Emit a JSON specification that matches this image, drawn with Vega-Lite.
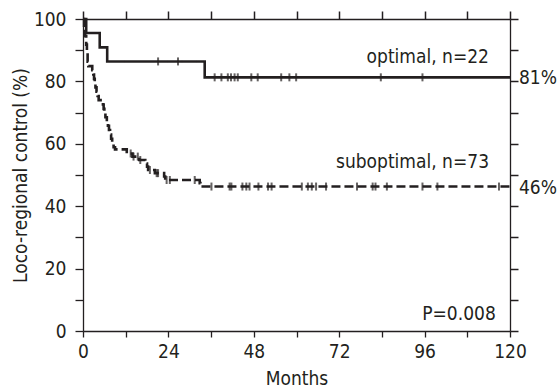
{
  "$schema": "https://vega.github.io/schema/vega-lite/v6.json",
  "width": 427,
  "height": 312,
  "autosize": {"type": "none"},
  "padding": {"left": 83, "top": 19, "right": 50, "bottom": 60},
  "background": "white",
  "config": {
    "view": {"stroke": null},
    "font": "Liberation Sans Narrow, DejaVu Sans Condensed, sans-serif",
    "axis": {
      "domainColor": "#231f20", "tickColor": "#231f20", "labelColor": "#231f20", "titleColor": "#231f20",
      "grid": false, "labelFontSize": 19, "titleFontSize": 19, "titleFontWeight": "normal",
      "domainWidth": 1.3, "tickWidth": 1.3,
      "labelFont": "Liberation Sans Narrow, DejaVu Sans Condensed, sans-serif",
      "titleFont": "Liberation Sans Narrow, DejaVu Sans Condensed, sans-serif"
    }
  },
  "datasets": {
    "curves": [
      {"g": "optimal", "t": 0, "s": 100},
      {"g": "optimal", "t": 0.9, "s": 95.5},
      {"g": "optimal", "t": 4.7, "s": 90.9},
      {"g": "optimal", "t": 6.8, "s": 86.4},
      {"g": "optimal", "t": 34.2, "s": 81.3},
      {"g": "optimal", "t": 120, "s": 81.3},
      {"g": "suboptimal", "t": 0, "s": 100},
      {"g": "suboptimal", "t": 0.3, "s": 97.3},
      {"g": "suboptimal", "t": 0.6, "s": 94.5},
      {"g": "suboptimal", "t": 0.9, "s": 91.8},
      {"g": "suboptimal", "t": 1.1, "s": 89.0},
      {"g": "suboptimal", "t": 1.3, "s": 86.3},
      {"g": "suboptimal", "t": 1.5, "s": 84.9},
      {"g": "suboptimal", "t": 2.6, "s": 83.6},
      {"g": "suboptimal", "t": 2.9, "s": 82.2},
      {"g": "suboptimal", "t": 3.1, "s": 80.8},
      {"g": "suboptimal", "t": 3.3, "s": 79.5},
      {"g": "suboptimal", "t": 3.5, "s": 78.1},
      {"g": "suboptimal", "t": 3.8, "s": 76.7},
      {"g": "suboptimal", "t": 4.1, "s": 75.3},
      {"g": "suboptimal", "t": 4.4, "s": 74.0},
      {"g": "suboptimal", "t": 5.6, "s": 72.6},
      {"g": "suboptimal", "t": 5.8, "s": 71.2},
      {"g": "suboptimal", "t": 6.0, "s": 69.9},
      {"g": "suboptimal", "t": 6.3, "s": 68.5},
      {"g": "suboptimal", "t": 6.7, "s": 67.1},
      {"g": "suboptimal", "t": 7.0, "s": 65.8},
      {"g": "suboptimal", "t": 7.3, "s": 64.4},
      {"g": "suboptimal", "t": 7.6, "s": 63.0},
      {"g": "suboptimal", "t": 7.9, "s": 61.6},
      {"g": "suboptimal", "t": 8.2, "s": 60.3},
      {"g": "suboptimal", "t": 8.6, "s": 58.9},
      {"g": "suboptimal", "t": 9.0, "s": 58.2},
      {"g": "suboptimal", "t": 12.3, "s": 56.9},
      {"g": "suboptimal", "t": 13.9, "s": 55.9},
      {"g": "suboptimal", "t": 15.8, "s": 54.8},
      {"g": "suboptimal", "t": 17.5, "s": 53.7},
      {"g": "suboptimal", "t": 18.0, "s": 52.7},
      {"g": "suboptimal", "t": 18.3, "s": 51.6},
      {"g": "suboptimal", "t": 20.2, "s": 50.6},
      {"g": "suboptimal", "t": 22.8, "s": 49.5},
      {"g": "suboptimal", "t": 23.1, "s": 48.4},
      {"g": "suboptimal", "t": 32.8, "s": 47.4},
      {"g": "suboptimal", "t": 33.0, "s": 46.3},
      {"g": "suboptimal", "t": 120, "s": 46.3}
    ],
    "censors": [
      {"g": "optimal", "t": 21.1, "s": 86.4},
      {"g": "optimal", "t": 26.7, "s": 86.4},
      {"g": "optimal", "t": 37.0, "s": 81.3},
      {"g": "optimal", "t": 38.9, "s": 81.3},
      {"g": "optimal", "t": 40.7, "s": 81.3},
      {"g": "optimal", "t": 41.6, "s": 81.3},
      {"g": "optimal", "t": 42.6, "s": 81.3},
      {"g": "optimal", "t": 43.5, "s": 81.3},
      {"g": "optimal", "t": 47.3, "s": 81.3},
      {"g": "optimal", "t": 49.1, "s": 81.3},
      {"g": "optimal", "t": 55.7, "s": 81.3},
      {"g": "optimal", "t": 58.0, "s": 81.3},
      {"g": "optimal", "t": 59.9, "s": 81.3},
      {"g": "optimal", "t": 83.7, "s": 81.3},
      {"g": "optimal", "t": 95.4, "s": 81.3},
      {"g": "suboptimal", "t": 13.4, "s": 56.9},
      {"g": "suboptimal", "t": 14.2, "s": 55.9},
      {"g": "suboptimal", "t": 15.4, "s": 55.9},
      {"g": "suboptimal", "t": 16.1, "s": 54.8},
      {"g": "suboptimal", "t": 18.8, "s": 51.6},
      {"g": "suboptimal", "t": 20.7, "s": 50.6},
      {"g": "suboptimal", "t": 21.1, "s": 50.6},
      {"g": "suboptimal", "t": 23.5, "s": 48.4},
      {"g": "suboptimal", "t": 24.4, "s": 48.4},
      {"g": "suboptimal", "t": 31.4, "s": 48.4},
      {"g": "suboptimal", "t": 36.1, "s": 46.3},
      {"g": "suboptimal", "t": 41.2, "s": 46.3},
      {"g": "suboptimal", "t": 41.7, "s": 46.3},
      {"g": "suboptimal", "t": 44.8, "s": 46.3},
      {"g": "suboptimal", "t": 45.9, "s": 46.3},
      {"g": "suboptimal", "t": 46.8, "s": 46.3},
      {"g": "suboptimal", "t": 49.3, "s": 46.3},
      {"g": "suboptimal", "t": 52.0, "s": 46.3},
      {"g": "suboptimal", "t": 53.0, "s": 46.3},
      {"g": "suboptimal", "t": 61.5, "s": 46.3},
      {"g": "suboptimal", "t": 63.2, "s": 46.3},
      {"g": "suboptimal", "t": 64.3, "s": 46.3},
      {"g": "suboptimal", "t": 65.5, "s": 46.3},
      {"g": "suboptimal", "t": 68.3, "s": 46.3},
      {"g": "suboptimal", "t": 77.0, "s": 46.3},
      {"g": "suboptimal", "t": 81.4, "s": 46.3},
      {"g": "suboptimal", "t": 82.2, "s": 46.3},
      {"g": "suboptimal", "t": 85.4, "s": 46.3},
      {"g": "suboptimal", "t": 95.4, "s": 46.3},
      {"g": "suboptimal", "t": 99.6, "s": 46.3},
      {"g": "suboptimal", "t": 116.9, "s": 46.3}
    ],
    "notes": [
      {"t": 114.1, "s": 85.8, "label": "optimal, n=22"},
      {"t": 114.1, "s": 52.1, "label": "suboptimal, n=73"},
      {"t": 116.0, "s": 3.5, "label": "P=0.008"}
    ],
    "ends": [
      {"t": 120, "s": 81.3, "label": "81%"},
      {"t": 120, "s": 46.3, "label": "46%"}
    ]
  },
  "resolve": {"axis": {"x": "independent", "y": "independent"}},
  "layer": [
    {
      "data": {"name": "curves"},
      "mark": {"type": "line", "interpolate": "step-after", "strokeWidth": 2.6, "color": "#231f20", "clip": false},
      "encoding": {
        "x": {"field": "t", "type": "quantitative", "scale": {"domain": [0, 120], "nice": false},
          "axis": {"orient": "bottom", "values": [0, 12, 24, 36, 48, 60, 72, 84, 96, 108, 120],
            "labelExpr": "datum.value % 24 == 0 ? datum.label : ''", "title": "Months",
            "tickSize": 6, "labelPadding": 5, "titlePadding": 8, "labelFlush": false}},
        "y": {"field": "s", "type": "quantitative", "scale": {"domain": [0, 100], "nice": false},
          "axis": {"orient": "left", "values": [0, 10, 20, 30, 40, 50, 60, 70, 80, 90, 100],
            "labelExpr": "datum.value % 20 == 0 ? datum.label : ''", "title": "Loco-regional control (%)",
            "tickSize": 8, "labelPadding": 9, "titlePadding": 3, "labelFlush": false}},
        "strokeDash": {"field": "g", "type": "nominal",
          "scale": {"domain": ["optimal", "suboptimal"], "range": [[1, 0], [9, 4]]}, "legend": null}
      }
    },
    {
      "data": {"name": "censors"},
      "mark": {"type": "tick", "orient": "vertical", "size": 8, "thickness": 2, "color": "#231f20"},
      "encoding": {
        "x": {"field": "t", "type": "quantitative", "axis": null},
        "y": {"field": "s", "type": "quantitative", "axis": null}
      }
    },
    {
      "data": {"name": "notes"},
      "mark": {"type": "text", "align": "right", "baseline": "alphabetic", "fontSize": 19, "color": "#231f20"},
      "encoding": {
        "x": {"field": "t", "type": "quantitative", "axis": null},
        "y": {"field": "s", "type": "quantitative", "axis": null},
        "text": {"field": "label"}
      }
    },
    {
      "data": {"name": "ends"},
      "mark": {"type": "text", "align": "left", "baseline": "middle", "fontSize": 19, "dx": 9, "dy": 1, "color": "#231f20"},
      "encoding": {
        "x": {"field": "t", "type": "quantitative",
          "axis": {"orient": "top", "values": [0, 12, 24, 36, 48, 60, 72, 84, 96, 108, 120], "labels": true, "labelFontSize": 8, "labelColor": "white", "title": null, "tickSize": 8, "tickWidth": 1.5, "ticks": true}},
        "y": {"field": "s", "type": "quantitative",
          "axis": {"orient": "right", "tickCount": 10, "labels": true, "labelFontSize": 8, "labelColor": "white", "title": null, "tickSize": 8, "tickWidth": 1.5, "ticks": true}},
        "text": {"field": "label"}
      }
    }
  ]
}
